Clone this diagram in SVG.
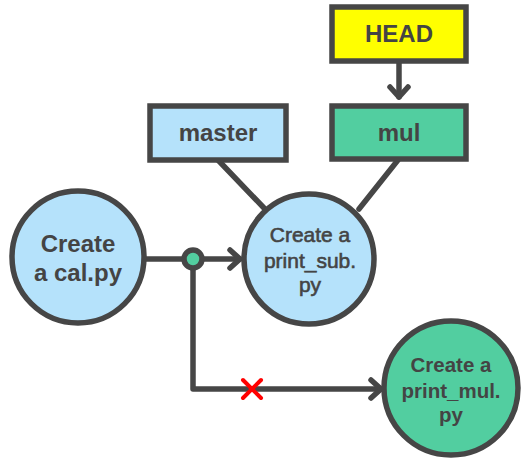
<svg xmlns="http://www.w3.org/2000/svg" width="522" height="476" viewBox="0 0 522 476">
<style>
.edge{fill:none;stroke:#464646;stroke-width:5.5;stroke-linecap:round;stroke-linejoin:round}
.node{stroke:#464646;stroke-width:5.5}
.blue{fill:#b5e2fb}
.green{fill:#52cea0}
.lbl{font-family:"Liberation Sans",Arial,sans-serif;fill:#444;text-anchor:middle}
.b{font-weight:bold}
.m{stroke:#444;stroke-width:0.6}
</style>
<defs>
<marker id="arr" markerWidth="16" markerHeight="24" refX="13" refY="12" orient="auto" markerUnits="userSpaceOnUse">
<path d="M3,3 L13,12 L3,21" fill="none" stroke="#464646" stroke-width="5.5" stroke-linecap="round" stroke-linejoin="round"/>
</marker>
</defs>
<rect width="522" height="476" fill="#ffffff"/>
<g id="connectors">
<line class="edge" x1="146" y1="259" x2="240" y2="259" marker-end="url(#arr)"/>
<polyline class="edge" points="193,259 193,389 381,389" marker-end="url(#arr)"/>
<line class="edge" x1="218" y1="160" x2="264" y2="208"/>
<line class="edge" x1="398" y1="160" x2="359" y2="209"/>
<line class="edge" x1="399" y1="62" x2="399" y2="97" marker-end="url(#arr)"/>
<circle class="node green" cx="193" cy="259" r="9"/>
<g id="x-mark" stroke="#ff0000" stroke-width="4" stroke-linecap="round">
<line x1="243" y1="380" x2="261" y2="398"/>
<line x1="261" y1="380" x2="243" y2="398"/>
</g>
</g>
<g id="node-cal">
<circle class="node blue" cx="78" cy="257" r="66"/>
<text class="lbl b" x="78" y="252" font-size="24">Create</text>
<text class="lbl b" x="78" y="281" font-size="24">a cal.py</text>
</g>
<g id="node-sub">
<circle class="node blue" cx="309" cy="259" r="65"/>
<text class="lbl m" x="310" y="242" font-size="21">Create a</text>
<text class="lbl m" x="310" y="268" font-size="21">print_sub.</text>
<text class="lbl m" x="310" y="292" font-size="21">py</text>
</g>
<g id="node-mul">
<circle class="node green" cx="451" cy="388" r="67"/>
<text class="lbl b" x="451" y="372" font-size="20.5">Create a</text>
<text class="lbl b" x="451" y="398" font-size="20.5">print_mul.</text>
<text class="lbl b" x="451" y="422" font-size="20.5">py</text>
</g>
<g id="branch-master">
<rect class="node blue" x="150" y="106" width="136" height="54"/>
<text class="lbl b" x="218" y="141" font-size="24">master</text>
</g>
<g id="branch-mul">
<rect class="node green" x="332" y="106" width="134" height="53"/>
<text class="lbl b" x="399" y="141" font-size="24">mul</text>
</g>
<g id="head">
<rect class="node" fill="#ffff00" x="332" y="7" width="134" height="54"/>
<text class="lbl b" x="399" y="42" font-size="24">HEAD</text>
</g>
</svg>
